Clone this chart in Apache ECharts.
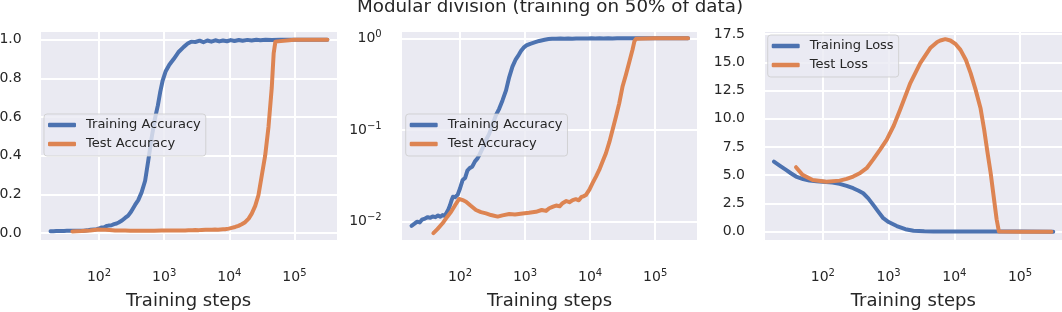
<!DOCTYPE html>
<html><head><meta charset="utf-8">
<script src="https://cdn.jsdelivr.net/npm/echarts@6/dist/echarts.min.js"></script>
<style>html,body{margin:0;padding:0;background:#fff}#c{width:1062px;height:312px}</style>
</head><body><div id="c"></div>
<script>
// ---------- data ----------
const trainAccSteps = [18,20,22,24,26,29,32,35,38,42,46,50,54,58,62,66,70,74,78,84,92,100,110,120,130,140,155,170,186,200,225,251,280,310,357,400,450,510,570,640,720,800,870,950,1050,1200,1400,1650,2000,2300,2600,3000,3500,4000,4600,5300,6100,7000,8000,9200,10500,12000,14000,16000,19000,22000,26000,30000,36000,45000,60000,100000,200000,320000];
const trainAccValues = [0.0090,0.0095,0.0100,0.0098,0.0105,0.0108,0.0112,0.0110,0.0114,0.0112,0.0117,0.0113,0.0118,0.0116,0.0125,0.0135,0.0150,0.0170,0.0187,0.0185,0.0196,0.0230,0.0285,0.0300,0.0360,0.0382,0.0400,0.0455,0.0490,0.0540,0.0640,0.0778,0.0900,0.1100,0.1450,0.1700,0.2100,0.2700,0.3750,0.4900,0.5900,0.6600,0.7300,0.7900,0.8350,0.8700,0.9000,0.9350,0.9630,0.9800,0.9900,0.9880,0.9950,0.9870,0.9960,0.9900,0.9970,0.9910,0.9960,0.9920,0.9980,0.9930,0.9985,0.9950,0.9990,0.9960,0.9995,0.9975,1.0,0.999,1.0,1.0,1.0,1.0];

const testAccSteps = [39,45,54,63,73,85,97,110,124,145,176,210,251,300,379,450,572,700,916,1150,1468,1800,2100,2355,2700,3000,3400,3767,4300,4800,5400,6030,6700,7300,8000,8600,9200,9800,10900,12300,13800,15500,17500,19800,22100,25000,28000,31600,35500,40000,44800,48000,51000,54000,100000,200000,320000];
const testAccValues = [0.0075,0.0083,0.0096,0.0112,0.0128,0.0153,0.0177,0.0172,0.0165,0.0150,0.0134,0.0127,0.0123,0.0118,0.01135,0.0117,0.0121,0.0120,0.0123,0.0125,0.0128,0.0134,0.0131,0.0140,0.0146,0.0150,0.0147,0.0159,0.0168,0.0163,0.0172,0.0176,0.0171,0.0185,0.0190,0.0195,0.0205,0.0225,0.0263,0.0310,0.0367,0.0450,0.0557,0.0740,0.1000,0.1400,0.1950,0.3000,0.4000,0.5500,0.7500,0.9300,0.9900,1.0,1.0,1.0,1.0];

const trainLossSteps = [18,22,27.5,33,39,50,62.6,80,100,140,180,230,289,350,411,490,584,700,830,1000,1332,1800,2390,3500,4840,10000,30000,100000,320000];
const trainLossValues = [6.2,5.85,5.47,5.15,4.88,4.66,4.52,4.47,4.43,4.35,4.23,4.05,3.85,3.62,3.40,2.95,2.37,1.75,1.19,0.85,0.50,0.22,0.08,0.03,0.02,0.015,0.01,0.005,0.003];

const testLossSteps = [39,49,70,113,180,230,289,370,463,584,738,933,1200,1496,2140,3030,4300,5500,6120,7300,8700,10500,12400,15000,17700,21000,25100,28500,31800,35700,39900,44000,47600,100000,300000];
const testLossValues = [5.71,5.03,4.58,4.43,4.52,4.68,4.88,5.20,5.62,6.40,7.24,8.13,9.40,10.79,13.16,14.93,16.26,16.80,16.93,17.05,16.93,16.60,16.10,15.20,14.04,12.60,10.90,9.00,7.10,5.20,3.00,1.10,0.02,0.0,0.0];

const titleText = 'Modular division (training on 50% of data)';
const xName = 'Training steps';
const accNames = ['Training Accuracy', 'Test Accuracy'];
const lossNames = ['Training Loss', 'Test Loss'];
const linTicks1 = 0.2;
const linTicks3 = 2.5;
// ----------------------------------------------------

const BLUE = '#4c72b0', ORANGE = '#dd8452', TXT = '#262626';
const FONT = 'DejaVu Sans';
const pairs = (s, v) => s.map((x, i) => [x, v[i]]);

function powFmt(v) {
  const e = Math.log10(v), r = Math.round(e);
  if (Math.abs(e - r) > 1e-6) return '';
  return '{b|10}{s|' + (r < 0 ? '\u2212' + (-r) : r) + '}';
}
const supRich = {
  b: {fontSize: 14, lineHeight: 18, color: TXT, fontFamily: FONT},
  s: {fontSize: 10, lineHeight: 10, verticalAlign: 'top', color: TXT, fontFamily: FONT}
};
function linFmt(step) {
  return v => {
    const k = v / step;
    return Math.abs(k - Math.round(k)) < 1e-6 ? v.toFixed(1) : '';
  };
}

const grids = [
  {left: 40, top: 31, width: 297.3, height: 209.7},
  {left: 401, top: 31, width: 297, height: 209.7},
  {left: 763.3, top: 31, width: 300, height: 209.7}
].map(g => Object.assign(g, {show: true, backgroundColor: '#eaeaf2', borderWidth: 0, containLabel: false, outerBoundsMode: 'none'}));

const split = {show: true, lineStyle: {color: '#ffffff', width: 2}};

function xAxis(i) {
  return {
    type: 'log', gridIndex: i, min: 12.4, max: 455000,
    axisLine: {show: false}, axisTick: {show: false}, splitLine: split,
    axisLabel: {margin: 28, formatter: powFmt, rich: supRich, color: TXT},
    name: xName, nameLocation: 'middle', nameGap: 52,
    nameTextStyle: {fontSize: 18, color: TXT, fontFamily: FONT}
  };
}

const yAxes = [
  {type: 'value', gridIndex: 0, min: -0.04, max: 1.045, minInterval: linTicks1, maxInterval: linTicks1,
   axisLine: {show: false}, axisTick: {show: false}, splitLine: split,
   axisLabel: {margin: 18.3, fontSize: 14, fontFamily: FONT, color: TXT, formatter: linFmt(linTicks1)}},
  {type: 'log', gridIndex: 1, min: 0.0062, max: 1.2,
   axisLine: {show: false}, axisTick: {show: false}, splitLine: split,
   axisLabel: {margin: 19.3, formatter: powFmt, rich: supRich, color: TXT}},
  {type: 'value', gridIndex: 2, min: -0.8, max: 17.77, minInterval: linTicks3, maxInterval: linTicks3,
   axisLine: {show: false}, axisTick: {show: false}, splitLine: split,
   axisLabel: {margin: 18.3, fontSize: 14, fontFamily: FONT, color: TXT, formatter: linFmt(linTicks3)}}
];

function line(name, i, data, color) {
  return {
    type: 'line', name, xAxisIndex: i, yAxisIndex: i, data,
    symbol: 'none', showSymbol: false, silent: true, animation: false,
    lineStyle: {width: 4, color, cap: 'round', join: 'round'},
    itemStyle: {color}
  };
}

function legend(names, left, top) {
  return {
    data: names, orient: 'vertical', left, top,
    icon: 'roundRect', itemWidth: 28, itemHeight: 4.5, itemGap: 5,
    padding: [4, 5, 5, 4],
    backgroundColor: 'rgba(234,234,242,0.8)', borderColor: 'rgba(204,204,204,0.8)', borderWidth: 1, borderRadius: 3,
    textStyle: {fontSize: 13, color: TXT, fontFamily: FONT, lineHeight: 14, padding: [0, 0, 0, 5]},
    selectedMode: false
  };
}

const option = {
  animation: false,
  textStyle: {fontFamily: FONT},
  grid: grids,
  xAxis: [xAxis(0), xAxis(1), xAxis(2)],
  yAxis: yAxes,
  legend: [legend(accNames, 44, 114), legend(accNames, 405.7, 114), legend(lossNames, 767.7, 35)],
  graphic: [{type: 'text', silent: true,
    style: {text: titleText, x: 550, y: 7, align: 'center', verticalAlign: 'middle',
            font: '18.3px "DejaVu Sans"', fill: TXT}}],
  series: [
    line(accNames[0], 0, pairs(trainAccSteps, trainAccValues), BLUE),
    line(accNames[1], 0, pairs(testAccSteps, testAccValues), ORANGE),
    line(accNames[0], 1, pairs(trainAccSteps, trainAccValues), BLUE),
    line(accNames[1], 1, pairs(testAccSteps, testAccValues), ORANGE),
    line(lossNames[0], 2, pairs(trainLossSteps, trainLossValues), BLUE),
    line(lossNames[1], 2, pairs(testLossSteps, testLossValues), ORANGE)
  ]
};
const chart = echarts.init(document.getElementById('c'), null, {renderer: 'canvas'});
chart.setOption(option);
</script></body></html>
